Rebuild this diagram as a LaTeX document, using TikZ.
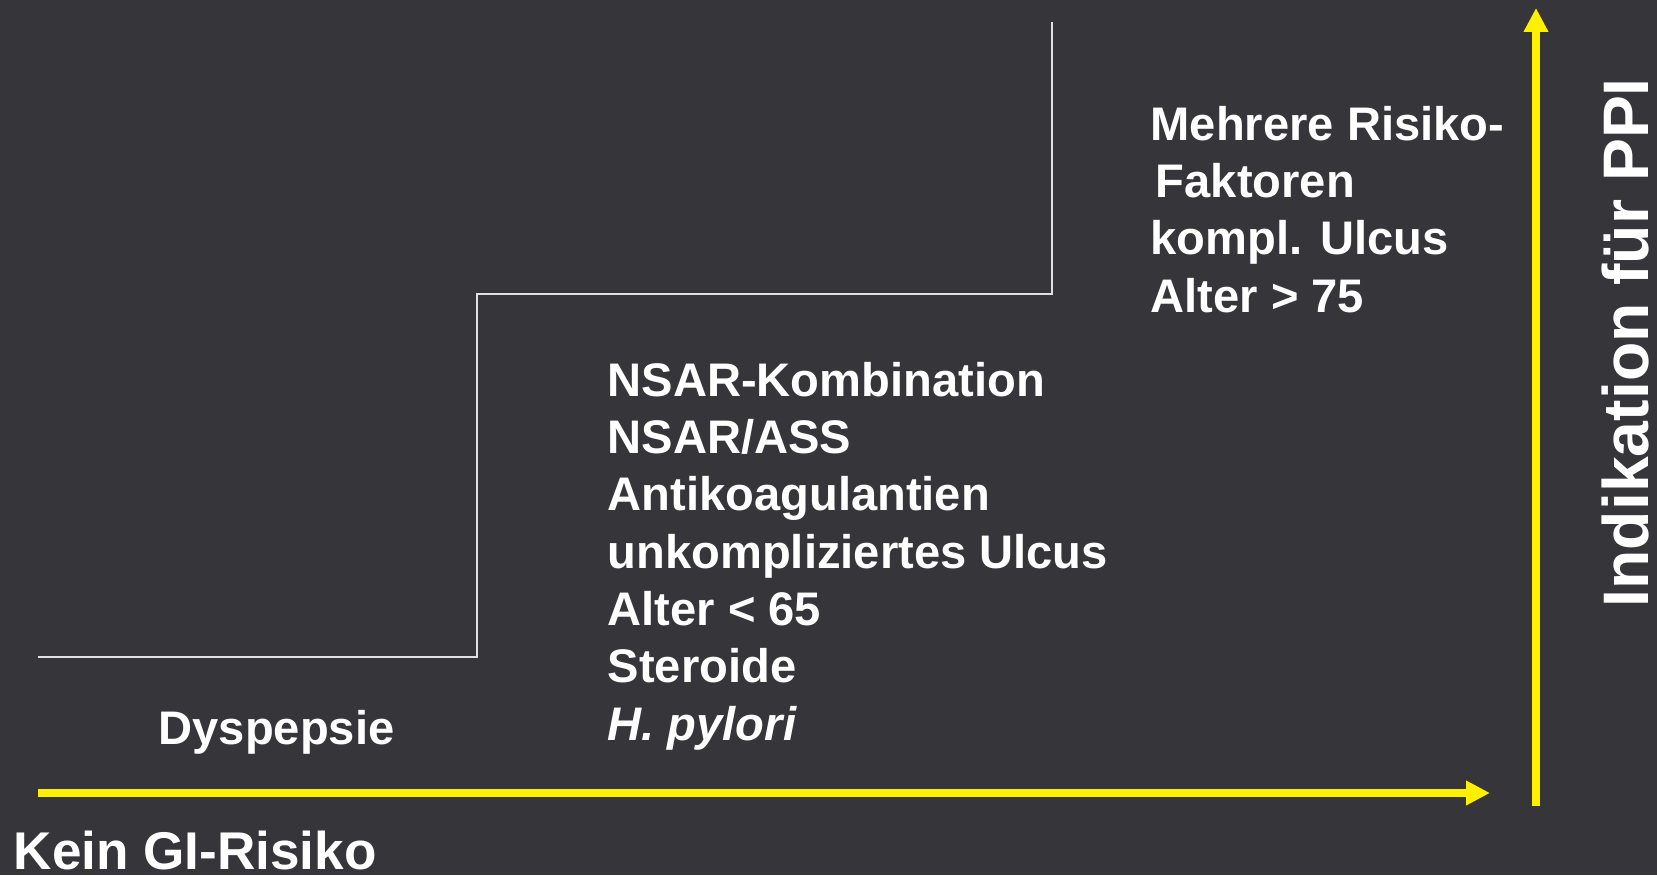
\documentclass[tikz,border=0pt]{standalone}
\usepackage{fontspec}
\setmainfont{Liberation Sans}
\usepackage{xcolor}
\usepackage{tikz}
\usetikzlibrary{arrows.meta,positioning}

\definecolor{slatebg}{RGB}{54,53,58}
\definecolor{axisyellow}{RGB}{255,240,0}

\begin{document}
\begin{tikzpicture}[
    x=0.01cm, y=0.01cm,
    stairline/.style={draw=white!88!black, line width=0.6pt},
    axis/.style={draw=axisyellow, line width=2.3pt, -{Triangle[length=6.8pt,width=6.6pt]}},
    risklist/.style={text=white, font=\bfseries\fontsize{13.4}{16.3}\selectfont, align=left, inner sep=0pt, anchor=base west},
    axislabel/.style={text=white, font=\bfseries\fontsize{15.1}{18}\selectfont, inner sep=0pt, anchor=base west},
    ppilabel/.style={text=white, font=\bfseries\fontsize{18.3}{22}\selectfont, inner sep=0pt, anchor=base west, rotate=90}
]

% Background
\useasboundingbox (0,0) rectangle (1657,875);
\fill[slatebg] (0,0) rectangle (1657,875);

% Stairs
\coordinate (step0) at (38,218);
\coordinate (step1) at (477,218);
\coordinate (step2) at (477,581);
\coordinate (step3) at (1052,581);
\coordinate (step4) at (1052,853);
\draw[stairline] (step0) -- (step1) -- (step2) -- (step3) -- (step4);

% Axes
\coordinate (origin_x) at (38,82);
\coordinate (end_x) at (1490,82);
\coordinate (origin_y) at (1536,69);
\coordinate (end_y) at (1536,867);
\draw[axis] (origin_x) -- (end_x);
\draw[axis] (origin_y) -- (end_y);

% Risk levels (base = last line)
\node[risklist] (low_risk) at (158,131) {Dyspepsie};
\node[risklist] (mid_risk) at (607,135) {NSAR-Kombination\\NSAR/ASS\\Antikoagulantien\\unkompliziertes Ulcus\\Alter \textless{} 65\\Steroide\\\textit{H. pylori}};
\node[risklist] (high_risk) at (1150,563) {Mehrere Risiko-\\\hspace{1.5pt}Faktoren\\kompl. Ulcus\\Alter \textgreater{} 75};

% Axis labels
\node[axislabel] (no_risk) at (13,6) {Kein GI-Risiko};
\node[ppilabel] (ppi_label) at (1648,267) {Indikation für PPI};

\end{tikzpicture}
\end{document}
